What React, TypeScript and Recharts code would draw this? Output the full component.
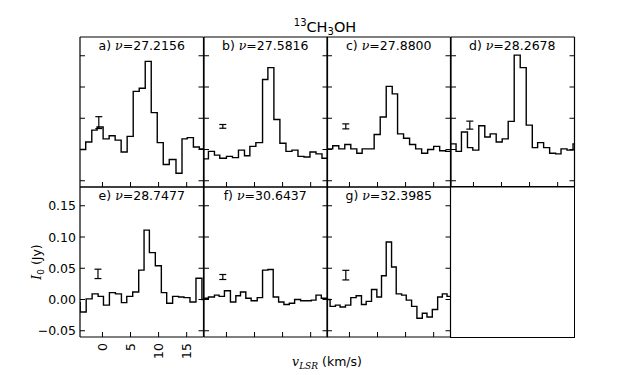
import React from "react";
import { ComposedChart, Line, Scatter, ErrorBar, XAxis, YAxis, ReferenceLine } from "recharts";

// panel captions
const panelLetters = ["a", "b", "c", "d", "e", "f", "g"];
const frequencies = ["27.2156", "27.5816", "27.8800", "28.2678", "28.7477", "30.6437", "32.3985"];

// channel left edges (km/s) and flux (Jy) per transition
const velA = [-4.05, -2.98, -1.9, -0.95, 0.12, 1.19, 2.26, 3.33, 4.4, 5.48, 6.55, 7.62, 8.69, 9.76, 10.83, 11.9, 13.1, 14.17, 15.1, 16.2, 17.26, 18.32];
const fluxA = [0.0, 0.012, 0.031, 0.036, 0.017, 0.022, 0.015, -0.004, 0.021, 0.093, 0.098, 0.141, 0.059, 0.011, -0.024, -0.016, -0.038, 0.017, 0.019, 0.004, 0.001, 0.001];

const velB = [-4.27, -3.21, -2.14, -1.19, 0.0, 1.07, 2.14, 3.21, 4.17, 5.24, 6.43, 7.38, 8.45, 9.52, 10.6, 11.67, 12.74, 13.81, 14.88, 15.95, 17.02, 18.1];
const fluxB = [-0.015, -0.003, -0.009, -0.014, -0.011, -0.013, -0.001, -0.01, 0.005, 0.011, 0.112, 0.131, 0.048, 0.01, -0.003, -0.001, -0.011, -0.012, -0.004, -0.007, -0.014, -0.014];

const velC = [-4.05, -2.98, -1.9, -0.83, 0.24, 1.31, 2.26, 3.33, 4.4, 5.48, 6.55, 7.62, 8.57, 9.64, 10.71, 11.79, 12.86, 13.93, 15.0, 16.07, 17.14, 18.2];
const fluxC = [0.001, 0.006, 0.001, 0.008, 0.001, -0.006, 0.001, 0.001, 0.024, 0.052, 0.101, 0.089, 0.025, 0.018, 0.008, 0.001, -0.006, 0.0, 0.005, -0.002, -0.003, -0.003];

const velD = [-4.15, -3.1, -2.14, -1.07, -0.12, 0.95, 2.02, 2.98, 4.05, 5.12, 6.19, 7.26, 8.33, 9.4, 10.48, 11.43, 12.5, 13.57, 14.64, 15.6, 16.67, 17.74, 18.8];
const fluxD = [0.009, -0.003, 0.028, 0.003, -0.001, 0.038, 0.02, 0.025, 0.012, 0.017, 0.045, 0.151, 0.131, 0.039, 0.003, 0.011, 0.003, -0.006, -0.007, 0.001, -0.001, 0.009, 0.009];

const velE = [-5.0, -3.97, -2.9, -1.84, -0.77, 0.18, 1.24, 2.31, 3.38, 4.33, 5.39, 6.46, 7.41, 8.36, 9.42, 10.49, 11.44, 12.5, 13.57, 14.52, 15.59, 16.66, 17.72, 18.8];
const fluxE = [-0.005, -0.02, 0.001, 0.009, 0.005, -0.009, 0.011, 0.009, -0.005, 0.005, 0.012, 0.047, 0.111, 0.075, 0.054, 0.011, -0.006, 0.005, 0.004, 0.003, -0.004, 0.034, 0.0, 0.0];

const velF = [-4.17, -3.21, -2.14, -1.31, -0.36, 0.71, 1.67, 2.5, 3.45, 4.4, 5.48, 6.43, 7.38, 8.33, 9.29, 10.24, 11.19, 12.14, 13.21, 14.17, 15.12, 15.95, 16.9, 17.86, 18.8];
const fluxF = [0.002, 0.004, 0.007, 0.005, 0.014, -0.004, 0.006, 0.012, 0.002, -0.002, 0.003, 0.047, 0.048, 0.004, -0.004, -0.008, -0.006, 0.0, -0.002, -0.002, -0.001, 0.007, 0.002, 0.002, 0.002];

const velG = [-4.36, -3.45, -2.5, -1.67, -0.71, 0.24, 1.19, 2.14, 2.98, 3.93, 4.88, 5.71, 6.55, 7.5, 8.33, 9.29, 10.12, 11.07, 12.02, 12.98, 13.81, 14.76, 15.71, 16.55, 17.38, 18.3];
const fluxG = [0.0, -0.011, -0.009, -0.012, -0.009, 0.003, 0.006, -0.008, -0.003, 0.016, 0.004, 0.038, 0.092, 0.052, 0.009, 0.007, -0.001, -0.011, -0.03, -0.022, -0.028, -0.016, 0.004, 0.009, 0.005, 0.005];

const velocities = [velA, velB, velC, velD, velE, velF, velG];
const fluxes = [fluxA, fluxB, fluxC, fluxD, fluxE, fluxF, fluxG];

// representative error bar per panel
const errX = [-0.65, -0.65, -0.65, -0.65, -0.8, -0.65, -0.65];
const errY = [0.043, 0.037, 0.037, 0.039, 0.041, 0.036, 0.039];
const errSize = [0.0095, 0.003, 0.004, 0.0064, 0.0075, 0.004, 0.0077];

const yTicks = [-0.05, 0, 0.05, 0.1, 0.15];
const xTicks = [0, 5, 10, 15];

const FONT = "'DejaVu Sans', sans-serif";
const MATH = "'DejaVu Serif', serif";
const X0 = 80;
const Y0 = 37;
const PW = 123.5;
const PH = 150;
const AX = 0.01; // near-zero axis thickness, axes with 0 size are not drawn
const X_DOM = [-4, 18];
const Y_DOM = [-0.06, 0.18];
// inward tick length (~5px) expressed in data units
const TICK_X = ((X_DOM[1] - X_DOM[0]) * 5) / PW;
const TICK_Y = ((Y_DOM[1] - Y_DOM[0]) * 5) / PH;

const XTick = (props: any) => {
  const { x, y, payload } = props;
  return (
    <text x={x} y={y} transform={`rotate(-90, ${x}, ${y})`} textAnchor="end" dominantBaseline="central"
      fontSize={12.5} fontFamily={FONT} fill="#000">
      {payload.value}
    </text>
  );
};

const YTick = (props: any) => {
  const { x, y, payload } = props;
  return (
    <text x={x} y={y} textAnchor="end" dominantBaseline="central" fontSize={12.5} fontFamily={FONT} fill="#000">
      {payload.value.toFixed(2).replace("-", "\u2212")}
    </text>
  );
};

function Panel({ idx }: { idx: number }) {
  const col = idx % 4;
  const row = Math.floor(idx / 4);
  const labelled = idx === 4;
  const pad = 6;
  const L = labelled ? 70 : pad;
  const B = labelled ? 36 : pad;
  const data = velocities[idx].map((v, i) => ({ v, flux: fluxes[idx][i] }));
  const err = [{ v: errX[idx], flux: errY[idx], err: errSize[idx] }];
  const left = X0 + col * PW;
  const top = Y0 + row * PH;
  const axisLine = { stroke: "#000", strokeWidth: 1.2 };

  return (
    <div style={{ position: "absolute", left: left - L, top: top - pad }}>
      <ComposedChart width={PW + L + pad} height={PH + pad + B} data={data}
        margin={{ top: pad, right: pad - AX, bottom: B - AX, left: L - AX }}>
        <XAxis type="number" dataKey="v" domain={X_DOM} allowDataOverflow ticks={xTicks} interval={0}
          height={AX} tickLine={false} tickSize={0} tickMargin={6} axisLine={axisLine}
          tick={labelled ? <XTick /> : false} />
        <YAxis yAxisId="l" type="number" domain={Y_DOM} allowDataOverflow ticks={yTicks} interval={0}
          width={AX} tickLine={false} tickSize={0} tickMargin={4} axisLine={axisLine}
          tick={labelled ? <YTick /> : false} />
        <YAxis yAxisId="r" orientation="right" type="number" domain={Y_DOM} allowDataOverflow ticks={yTicks}
          interval={0} width={AX} tickLine={false} axisLine={axisLine} tick={false} />
        <ReferenceLine yAxisId="l" y={Y_DOM[1]} stroke="#000" strokeWidth={1.2} />
        {yTicks.map((t) => (
          <ReferenceLine key={`yl${t}`} yAxisId="l" stroke="#000" strokeWidth={1}
            segment={[{ x: X_DOM[0], y: t }, { x: X_DOM[0] + TICK_X, y: t }]} />
        ))}
        {yTicks.map((t) => (
          <ReferenceLine key={`yr${t}`} yAxisId="l" stroke="#000" strokeWidth={1}
            segment={[{ x: X_DOM[1] - TICK_X, y: t }, { x: X_DOM[1], y: t }]} />
        ))}
        {xTicks.map((t) => (
          <ReferenceLine key={`xb${t}`} yAxisId="l" stroke="#000" strokeWidth={1}
            segment={[{ x: t, y: Y_DOM[0] }, { x: t, y: Y_DOM[0] + TICK_Y }]} />
        ))}
        <Line yAxisId="l" type="stepAfter" dataKey="flux" stroke="#000" strokeWidth={1.4} dot={false}
          isAnimationActive={false} />
        <Scatter yAxisId="r" data={err} dataKey="flux" shape={() => <g />} isAnimationActive={false}>
          <ErrorBar dataKey="err" direction="y" width={3.5} stroke="#000" strokeWidth={1.2} isAnimationActive={false} />
        </Scatter>
      </ComposedChart>
    </div>
  );
}

export default function App() {
  return (
    <div style={{ position: "absolute", left: 0, top: 0, width: 638, height: 375, background: "#fff", fontFamily: FONT }}>
      {panelLetters.map((_, i) => (
        <Panel key={i} idx={i} />
      ))}
      <div style={{
        position: "absolute", left: X0 + 3 * PW - 0.6, top: Y0 + PH - 0.6, width: PW + 1.2, height: PH + 1.2,
        border: "1.2px solid #000", boxSizing: "border-box",
      }} />
      <svg width={638} height={375} style={{ position: "absolute", left: 0, top: 0, pointerEvents: "none" }}>
        <text x={325} y={31.5} textAnchor="middle" fontSize={14.5} fontFamily={FONT} fill="#000">
          <tspan fontSize={10} dy={-6}>13</tspan>
          <tspan dy={6}>CH</tspan>
          <tspan fontSize={10} dy={3}>3</tspan>
          <tspan dy={-3}>OH</tspan>
        </text>
        {panelLetters.map((letter, i) => {
          const cx = X0 + (i % 4) * PW + PW / 2;
          const y = Y0 + Math.floor(i / 4) * PH + 13;
          return (
            <text key={letter} x={cx} y={y} textAnchor="middle" fontSize={12.5} fontFamily={FONT} fill="#000">
              {`${letter}) `}
              <tspan fontFamily={MATH} fontStyle="italic">ν</tspan>
              <tspan>{`=${frequencies[i]}`}</tspan>
            </text>
          );
        })}
        <text transform="translate(41,262) rotate(-90)" textAnchor="middle" fontSize={12.5} fontFamily={FONT} fill="#000">
          <tspan fontFamily={MATH} fontStyle="italic">I</tspan>
          <tspan fontSize={9} dy={3}>0</tspan>
          <tspan dy={-3}>{" (Jy)"}</tspan>
        </text>
        <text x={327} y={366} textAnchor="middle" fontSize={12.5} fontFamily={FONT} fill="#000">
          <tspan fontFamily={MATH} fontStyle="italic">v</tspan>
          <tspan fontFamily={MATH} fontStyle="italic" fontSize={9} dy={3}>LSR</tspan>
          <tspan dy={-3}>{" (km/s)"}</tspan>
        </text>
      </svg>
    </div>
  );
}
